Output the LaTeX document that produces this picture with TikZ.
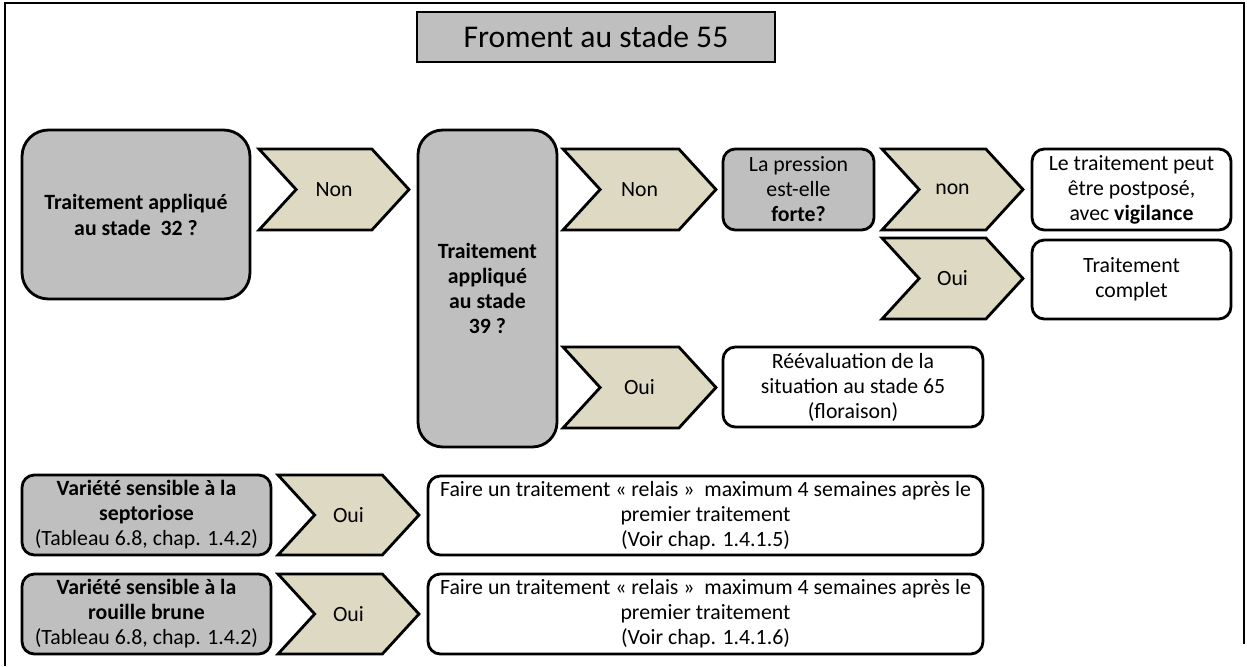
\documentclass[tikz,border=0pt]{standalone}
\usepackage{fontspec}
\setmainfont{Carlito}
\usetikzlibrary{shapes.symbols}
\definecolor{gris}{HTML}{BFBFBF}
\definecolor{beige}{HTML}{DDD9C3}

\begin{document}
\begin{tikzpicture}[x=0.02cm, y=-0.02cm,
  question/.style={draw, line width=1.6pt, fill=gris, rounded corners=7pt, align=center, inner sep=1pt, font=\fontsize{12.4}{14.2}\selectfont},
  reponse/.style={draw, line width=1.6pt, fill=white, rounded corners=7pt, align=center, inner sep=1pt, font=\fontsize{12.4}{14.2}\selectfont},
  chevron/.style={signal, signal from=west, signal to=east, signal pointer angle=95, draw, line width=1.6pt, fill=beige, inner sep=0pt, font=\fontsize{12.4}{14.2}\selectfont}]
  \useasboundingbox (0,0) rectangle (1247,666);
  \draw[line width=1.2pt] (5,666) -- (5,3) -- (1244,3) -- (1244,644);
  \node[draw, line width=1.6pt, fill=gris, minimum width=7.16cm, minimum height=1cm, font=\fontsize{18}{20}\selectfont] (titre) at (596,37) {Froment au stade 55};
  \node[question, rounded corners=15pt, minimum width=4.56cm, minimum height=3.38cm, font=\fontsize{12.4}{14.8}\selectfont\bfseries] (stade32) at (136,214.5) {Traitement appliqué\\au stade\ \ 32 ?};
  \node[chevron, minimum width=3cm, minimum height=1.62cm] (non1) at (334,189.5) {Non};
  \node[question, rounded corners=14pt, minimum width=2.78cm, minimum height=6.34cm, font=\fontsize{12.4}{14.3}\selectfont\bfseries] (stade39) at (487.5,288.5) {Traitement\\appliqué\\au stade\\39 ?};
  \node[chevron, minimum width=3.06cm, minimum height=1.62cm] (non2) at (639.5,189.5) {Non};
  \node[question, minimum width=3.02cm, minimum height=1.62cm] (pression) at (798.5,189.5) {La pression\\est-elle\\\textbf{forte?}};
  \node[chevron, minimum width=2.82cm, minimum height=1.62cm] (non3) at (952.5,189.5) {non};
  \node[reponse, minimum width=3.98cm, minimum height=1.62cm] (report) at (1131.5,189.5) {Le traitement peut\\être postposé,\\avec \textbf{vigilance}};
  \node[chevron, minimum width=2.82cm, minimum height=1.62cm] (oui1) at (952.5,278.5) {Oui};
  \node[reponse, minimum width=3.98cm, minimum height=1.58cm] (complet) at (1131.5,279.5) {Traitement\\complet};
  \node[chevron, minimum width=3.06cm, minimum height=1.62cm] (oui2) at (639.5,387.5) {Oui};
  \node[reponse, minimum width=5.2cm, minimum height=1.6cm] (reeval) at (853,387) {Réévaluation de la\\situation au stade 65\\(floraison)};
  \node[question, minimum width=4.98cm, minimum height=1.6cm] (septo) at (146.5,515) {\textbf{Variété sensible à la}\\\textbf{septoriose}\\(Tableau 6.8, chap. 1.4.2)};
  \node[chevron, minimum width=2.82cm, minimum height=1.6cm] (oui3) at (348.5,515) {Oui};
  \node[reponse, minimum width=11.1cm, minimum height=1.58cm] (relais1) at (705.5,515.5) {Faire un traitement « relais »\ \ maximum 4 semaines après le\\premier traitement\\(Voir chap. 1.4.1.5)};
  \node[question, minimum width=4.98cm, minimum height=1.6cm] (rouille) at (146.5,614) {\textbf{Variété sensible à la}\\\textbf{rouille brune}\\(Tableau 6.8, chap. 1.4.2)};
  \node[chevron, minimum width=2.82cm, minimum height=1.6cm] (oui4) at (348.5,614) {Oui};
  \node[reponse, minimum width=11.1cm, minimum height=1.6cm] (relais2) at (705.5,614) {Faire un traitement « relais »\ \ maximum 4 semaines après le\\premier traitement\\(Voir chap. 1.4.1.6)};
\end{tikzpicture}
\end{document}
